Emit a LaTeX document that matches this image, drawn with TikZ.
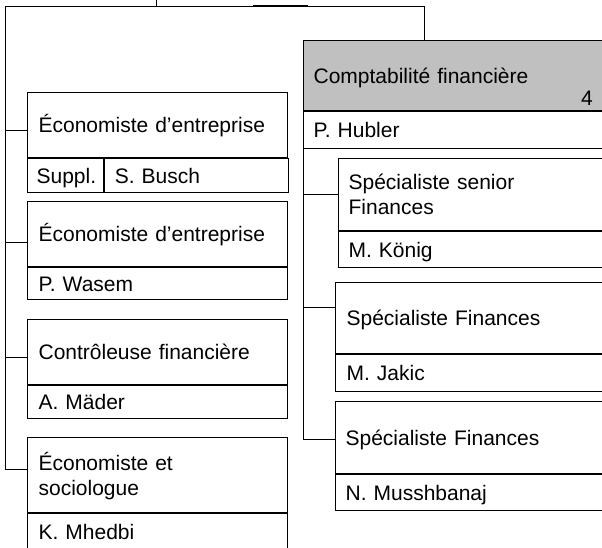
\documentclass[tikz,border=0pt]{standalone}
\usepackage{fontspec}
\setmainfont{Liberation Sans}
\definecolor{headgray}{RGB}{192,192,192}
\begin{document}
\begin{tikzpicture}[x=1pt,y=-1pt,
  box/.style={draw,line width=1.2pt,anchor=north west,align=left,inner xsep=11pt,inner ysep=0pt,text height=15pt,text depth=0pt,font=\fontsize{21}{25}\selectfont},
  twolines/.style={text depth=25pt},
  link/.style={draw,line width=0.8pt}]
\clip (0,0) rectangle (602,547);
% parent (cut off at the top)
\coordinate (boss) at (156,6);
\draw[link] (156,-5) -- (boss) -- (308,6);
\draw[line width=1.6pt] (253,6) -- (308,6);
% left column
\node[box,minimum width=260pt,minimum height=65pt,text width=238pt] (eco1) at (27,92) {Économiste d’entreprise};
\node[box,minimum width=76pt,minimum height=34pt,text width=58pt,inner xsep=9pt] (supp1) at (eco1.south west) {Suppl.};
\node[box,minimum width=184pt,minimum height=34pt,text width=164pt,inner xsep=10pt] (name1) at (supp1.north east) {S. Busch};
\node[box,minimum width=260pt,minimum height=65pt,text width=238pt] (eco2) at (27,201) {Économiste d’entreprise};
\node[box,minimum width=260pt,minimum height=32pt,text width=238pt] (name2) at (eco2.south west) {P. Wasem};
\node[box,minimum width=260pt,minimum height=65pt,text width=238pt] (eco3) at (27,319) {Contrôleuse financière};
\node[box,minimum width=260pt,minimum height=33pt,text width=238pt] (name3) at (eco3.south west) {A. Mäder};
\node[box,twolines,minimum width=260pt,minimum height=75pt,text width=238pt] (eco4) at (27,437) {Économiste et\\sociologue};
\node[box,minimum width=260pt,minimum height=37pt,text width=238pt] (name4) at (eco4.south west) {K. Mhedbi};
% right column
\node[box,fill=headgray,minimum width=310pt,minimum height=70pt,text width=290pt,inner xsep=10pt] (compta) at (303,40) {Comptabilité financière};
\node[anchor=base east,inner sep=0pt,font=\fontsize{21}{25}\selectfont] (count) at (593,105) {4};
\node[box,minimum width=310pt,minimum height=37pt,text width=290pt,inner xsep=10pt] (chef) at (compta.south west) {P. Hubler};
\node[box,twolines,minimum width=275pt,minimum height=72pt,text width=255pt,inner xsep=10pt] (spec1) at (338,158) {Spécialiste senior\\Finances};
\node[box,minimum width=275pt,minimum height=36pt,text width=255pt,inner xsep=10pt] (pers1) at (spec1.south west) {M. König};
\node[box,minimum width=278pt,minimum height=71pt,text width=256pt] (spec2) at (335,282) {Spécialiste Finances};
\node[box,minimum width=278pt,minimum height=37pt,text width=256pt] (pers2) at (spec2.south west) {M. Jakic};
\node[box,minimum width=278pt,minimum height=72pt,text width=258pt,inner xsep=10pt] (spec3) at (335,401) {Spécialiste Finances};
\node[box,minimum width=278pt,minimum height=36pt,text width=258pt,inner xsep=10pt] (pers3) at (spec3.south west) {N. Musshbanaj};
% connectors
\coordinate (spl) at (5,6);
\draw[link] (boss) -- (spl) |- ([yshift=5.5pt]eco4.west);
\foreach \b/\s in {eco1/-5.5,eco2/-8.5,eco3/-5.5}{
  \coordinate (\b-in) at ([yshift=\s pt]\b.west);
  \draw[link] (spl |- \b-in) -- (\b-in);}
\draw[link] (boss) -| ([xshift=121pt]compta.north west);
\coordinate (spr) at (chef.south west);
\draw[link] (spr) |- ([yshift=-2pt]spec3.west);
\foreach \b/\s in {spec1/0,spec2/10.5}{
  \coordinate (\b-in) at ([yshift=\s pt]\b.west);
  \draw[link] (spr |- \b-in) -- (\b-in);}
\end{tikzpicture}
\end{document}
